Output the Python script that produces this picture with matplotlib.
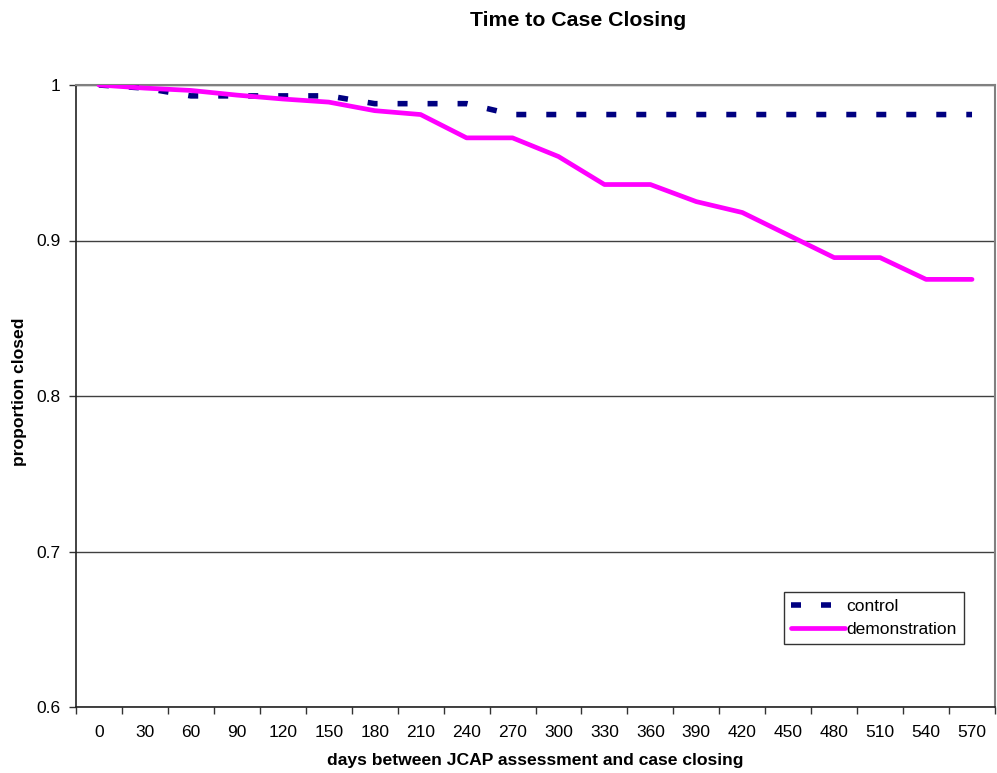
import matplotlib
matplotlib.use("Agg")
import matplotlib.pyplot as plt
from matplotlib.ticker import FixedLocator, FuncFormatter

plt.rcParams['font.family'] = ['Liberation Sans', 'DejaVu Sans']
plt.rcParams['lines.scale_dashes'] = False

days = [0, 30, 60, 90, 120, 150, 180, 210, 240, 270, 300, 330, 360, 390, 420, 450, 480, 510, 540, 570]
control = [1.0, 0.998, 0.993, 0.993, 0.993, 0.993, 0.988, 0.988, 0.988, 0.981, 0.981, 0.981, 0.981,
           0.981, 0.981, 0.981, 0.981, 0.981, 0.981, 0.981]
demonstration = [1.0, 0.998, 0.9965, 0.9935, 0.991, 0.989, 0.9835, 0.981, 0.966, 0.966, 0.954, 0.936,
                 0.936, 0.925, 0.918, 0.9035, 0.889, 0.889, 0.875, 0.875]
y_ticks = [0.6, 0.7, 0.8, 0.9, 1.0]

W, H = 997, 773
fig = plt.figure(figsize=(W / 100, H / 100), dpi=100)
L, R, T, B = 76, 995, 85, 707
ax = fig.add_axes([L / W, 1 - B / H, (R - L) / W, (B - T) / H])

x = list(range(len(days)))
ax.plot(x, control, color='#000080', lw=4.0, linestyle=(0, (7.2, 14.4)),
        dash_capstyle='butt', solid_capstyle='butt', label='control', zorder=3)
ax.plot(x, demonstration, color='#FF00FF', lw=3.4, solid_capstyle='round',
        solid_joinstyle='round', label='demonstration', zorder=4)

ax.set_xlim(-0.5, len(days) - 0.5)
ax.set_ylim(0.6, 1.0)

ax.yaxis.set_major_locator(FixedLocator(y_ticks))
ax.yaxis.set_major_formatter(FuncFormatter(lambda v, p: f"{v:g}"))
ax.grid(axis='y', color='#404040', lw=1.0, zorder=1)

ax.xaxis.set_major_locator(FixedLocator([i - 0.5 for i in range(len(days) + 1)]))
ax.xaxis.set_major_formatter(FuncFormatter(lambda v, p: ""))
ax.xaxis.set_minor_locator(FixedLocator(x))
ax.set_xticklabels([str(d) for d in days], minor=True)
ax.tick_params(axis='x', which='major', length=5, width=1, direction='out', color='#333333')
ax.tick_params(axis='x', which='minor', length=0, pad=13, labelsize=12.5)
ax.tick_params(axis='y', which='major', length=5, width=1, direction='out', pad=6,
               labelsize=12.5, color='#333333')

for s in ['left', 'bottom']:
    ax.spines[s].set_color('#222222')
    ax.spines[s].set_linewidth(1.2)
for s in ['right', 'top']:
    ax.spines[s].set_color('#808080')
    ax.spines[s].set_linewidth(1.5)

fig.text(578 / W, 1 - 20 / H, 'Time to Case Closing', ha='center', va='center',
         fontsize=15.3, fontweight='bold')
fig.text(535 / W, 1 - 761 / H, 'days between JCAP assessment and case closing', ha='center',
         va='center', fontsize=12.6, fontweight='bold')
fig.text(20 / W, 1 - 392 / H, 'proportion closed', ha='center', va='center', rotation=90,
         fontsize=12.6, fontweight='bold')

leg = ax.legend(loc='upper right', bbox_to_anchor=(0.966, 0.185), borderaxespad=0,
                fontsize=12.5, frameon=True, fancybox=False, handlelength=3.1,
                handletextpad=0.1, borderpad=0.4, labelspacing=0.45)
leg.get_frame().set_edgecolor('#000000')
leg.get_frame().set_linewidth(1.0)

fig.savefig('out.png', dpi=100)
